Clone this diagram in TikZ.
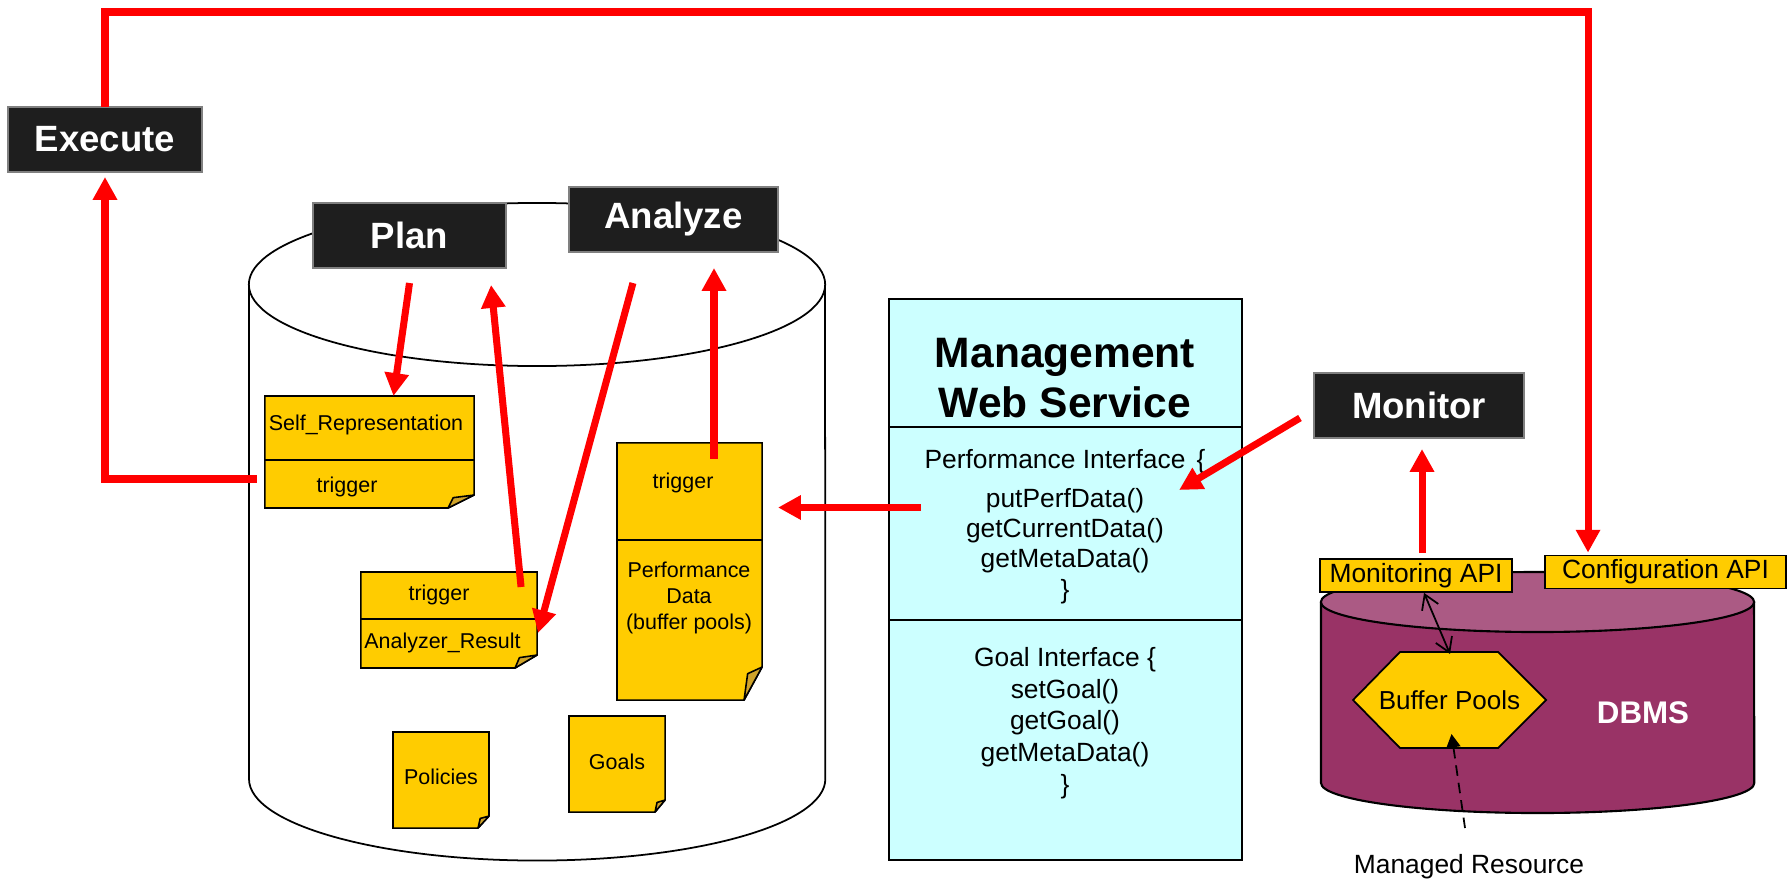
\documentclass[tikz,border=0pt]{standalone}
\usepackage{fontspec}
\setmainfont{Liberation Sans}
\usetikzlibrary{arrows.meta,calc}

\definecolor{boxgray}{HTML}{1E1E1E}
\definecolor{noteyellow}{HTML}{FFCC00}
\definecolor{foldyellow}{HTML}{CFA32A}
\definecolor{mwscyan}{HTML}{CCFFFF}
\definecolor{dbmsred}{HTML}{993366}
\definecolor{dbmstop}{HTML}{AB5A84}
\definecolor{flowred}{HTML}{FF0000}

\newcommand{\notesize}{\fontsize{6.1}{7.3}\selectfont}
\newcommand{\mwssize}{\fontsize{7.5}{8.6}\selectfont}

% yellow note with a folded lower right corner, drawn round node #1
\newcommand{\docnote}[3]{%
  \filldraw[notepaper] (#1.north west) -- (#1.north east)
    -- ($(#1.south east)+(0,-#3)$) -- ($(#1.south east)+(-#2,0)$)
    -- (#1.south west) -- cycle;
  \filldraw[notefold] ($(#1.south east)+(0,-#3)$) -- ($(#1.south east)+(-#2,0)$)
    -- ($(#1.south east)+(-0.8*#2,-0.8*#3)$) -- cycle;
}

\tikzset{
  blackbox/.style={fill=boxgray, draw=gray, line width=0.4pt, text=white,
    font=\fontsize{10.4}{12}\selectfont\bfseries, minimum height=0.65cm,
    inner sep=0pt, outer sep=0pt},
  notebody/.style={inner sep=0pt, outer sep=0pt},
  notepaper/.style={fill=noteyellow, draw=black, line width=0.45pt},
  notefold/.style={fill=foldyellow, draw=black, line width=0.45pt, line join=round},
  notetext/.style={font=\notesize, inner sep=0pt, align=center},
  apibox/.style={fill=noteyellow, draw=black, line width=0.5pt, font=\mwssize,
    inner sep=0pt, minimum height=0.33cm},
  flow/.style={draw=flowred, line width=2pt, -{Triangle[width=6.6pt,length=6.5pt]}},
}

\begin{document}
\begin{tikzpicture}[x=0.01cm, y=-0.01cm]
    \useasboundingbox (0,0) rectangle (1792,882);

    % Knowledge store
    \filldraw[fill=white, draw=black, line width=0.5pt] (249,284.5) -- (249,779)
      arc[start angle=180, end angle=360, x radius=2.88cm, y radius=0.815cm] -- (825,284.5);
    \draw[line width=0.5pt] (537,284.5) ellipse[x radius=2.88cm, y radius=0.815cm];

    % Notes in the store
    \node[notebody, minimum width=2.09cm, minimum height=1.12cm] (selfrep) at (369.5,452) {};
    \docnote{selfrep}{26}{13}
    \draw[line width=0.45pt] ($(selfrep.north west)+(0,64)$) -- ($(selfrep.north east)+(0,64)$);
    \node[notetext] (selfrep-name) at (366,425) {Self\_Representation};
    \node[notetext] (selfrep-trig) at (347,487) {trigger};

    \node[notebody, minimum width=1.76cm, minimum height=0.96cm] (anres) at (449,620) {};
    \docnote{anres}{22}{13}
    \draw[line width=0.45pt] ($(anres.north west)+(0,47)$) -- ($(anres.north east)+(0,47)$);
    \node[notetext] (anres-trig) at (439,595) {trigger};
    \node[notetext] (anres-name) at (442.5,643) {Analyzer\_Result};

    \node[notebody, minimum width=1.45cm, minimum height=2.57cm] (perfdata) at (689.5,571.5) {};
    \docnote{perfdata}{18}{33}
    \draw[line width=0.45pt] ($(perfdata.north west)+(0,97)$) -- ($(perfdata.north east)+(0,97)$);
    \node[notetext] (perfdata-trig) at (683,483) {trigger};
    \node[notetext] (perfdata-name) at (689,598) {Performance\\Data\\(buffer pools)};

    \node[notebody, minimum width=0.96cm, minimum height=0.96cm] (policies) at (441,780) {};
    \docnote{policies}{11}{12}
    \node[notetext] (policies-name) at (441,777) {Policies};

    \node[notebody, minimum width=0.96cm, minimum height=0.96cm] (goals) at (617,764) {};
    \docnote{goals}{10}{12}
    \node[notetext] (goals-name) at (617,762) {Goals};

    % Management Web Service
    \node[fill=mwscyan, draw=black, line width=0.6pt, minimum width=3.53cm,
      minimum height=5.61cm, inner sep=0pt, outer sep=0pt] (mws) at (1065.5,579.5) {};
    \draw[line width=0.6pt] ($(mws.north west)+(0,128)$) -- ($(mws.north east)+(0,128)$);
    \draw[line width=0.6pt] ($(mws.north west)+(0,321)$) -- ($(mws.north east)+(0,321)$);
    \node[align=center, inner sep=0pt, font=\fontsize{12.1}{14.2}\selectfont\bfseries]
      (mws-title) at (1065,378) {Management\\Web Service};
    \node[font=\mwssize, inner sep=0pt] (perf-head) at (1065,462)
      {Performance Interface\hspace{3.2pt}\{};
    \node[font=\mwssize, inner sep=0pt, align=center] (perf-calls) at (1065,546)
      {putPerfData()\\getCurrentData()\\getMetaData()\\\}};
    \node[font=\fontsize{7.5}{9}\selectfont, inner sep=0pt, align=center] (goal-calls) at (1065,723)
      {Goal Interface \{\\setGoal()\\getGoal()\\getMetaData()\\\}};

    % DBMS
    \filldraw[fill=dbmsred, draw=black, line width=0.6pt] (1321,602) -- (1321,783)
      arc[start angle=180, end angle=360, x radius=2.165cm, y radius=0.3cm] -- (1754,602);
    \filldraw[fill=dbmstop, draw=black, line width=0.6pt] (1537.5,602) ellipse[x radius=2.165cm, y radius=0.3cm];
    \filldraw[notepaper, line width=0.5pt] (1353,700) -- (1400,652) -- (1498,652)
      -- (1546,700) -- (1498,748) -- (1400,748) -- cycle;
    \node[minimum width=1.93cm, minimum height=0.96cm, inner sep=0pt, outer sep=0pt,
      font=\fontsize{7.4}{9}\selectfont] (buffer) at (1449.5,700) {Buffer Pools};
    \node[text=white, font=\fontsize{8.9}{11}\selectfont\bfseries] (dbms) at (1643,713) {DBMS};
    \node[apibox, minimum width=1.92cm] (monapi) at (1416,575.5) {Monitoring API};
    \node[apibox, minimum width=2.41cm] (confapi) at (1665.5,572) {Configuration API};
    \node[font=\mwssize, inner sep=0pt] (managed) at (1469,867) {Managed Resource};

    % Loop stages
    \node[blackbox, minimum width=1.94cm] (execute) at (105,139.5) {Execute};
    \node[blackbox, minimum width=1.93cm] (plan) at (409.5,235.5) {Plan};
    \node[blackbox, minimum width=2.09cm] (analyze) at (673.5,219.5) {Analyze};
    \node[blackbox, minimum width=2.10cm] (monitor) at (1419,405.5) {Monitor};

    % Flows
    \coordinate (cornerTR) at (1588,12);
    \draw[flow] (execute.north) |- (cornerTR) -- ($(confapi.north -| cornerTR)+(0,-2)$);
    \draw[flow] ($(selfrep.west)+(-8,27)$) -| ($(execute.south)+(0,5)$);
    \draw[flow] ($(plan.south)+(0,15)$) -- ($(selfrep.north)+(24,0)$);
    \draw[flow] ($(anres.north east)+(-16,15)$) -- ($(plan.south east)+(-15,17)$);
    \draw[flow] ($(analyze.south west)+(64,31)$) -- ($(anres.east)+(1,13)$);
    \draw[flow] ($(perfdata.north)+(24.5,16)$) -- ($(analyze.south)+(40.5,16)$);
    \draw[flow] ($(mws.west)+(32,-72)$) -- ($(perfdata.east)+(16,-64)$);
    \draw[flow] ($(monitor.west)+(-14,12.5)$) -- ($(mws.east)+(-63,-89.5)$);
    \draw[flow] ($(monapi.north)+(6,-5)$) -- ($(monitor.south)+(3,11)$);
    \draw[line width=0.5pt, {Straight Barb[length=4pt,width=5pt]}-{Straight Barb[length=4pt,width=5pt]}]
      ($(monapi.south)+(8,0)$) -- ($(buffer.north)+(0.5,2)$);
    \draw[line width=0.5pt, dash pattern=on 3pt off 2pt, -{Triangle[width=4pt,length=3.8pt]}]
      ($(managed.center)+(-4,-39)$) -- ($(buffer.south)+(2,-14)$);
\end{tikzpicture}
\end{document}
